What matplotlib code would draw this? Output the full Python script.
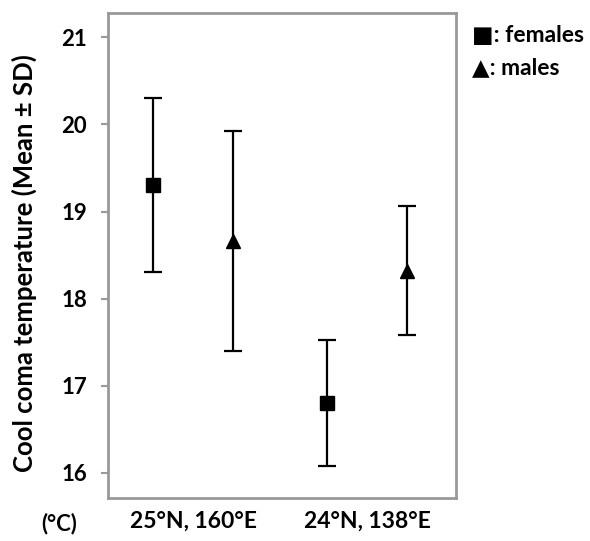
import numpy as np
import matplotlib.pyplot as plt

# sites and group values (cool coma temperature, mean and SD)
sites = ['25°N, 160°E', '24°N, 138°E']
female_mean = [19.3, 16.8]
female_sd = [1.0, 0.72]
male_mean = [18.66, 18.32]
male_sd = [1.26, 0.74]

plt.rcParams['font.family'] = ['Lato', 'DejaVu Sans']
plt.rcParams['font.weight'] = 'bold'

fig = plt.figure(figsize=(5.9, 5.41), dpi=100)
ax = fig.add_axes([0.183, 0.0795, 0.590, 0.8965])

x = np.arange(len(sites))
off = 0.23

ax.errorbar(x - off, female_mean, yerr=female_sd, fmt='s', color='black',
			markersize=10, elinewidth=1.6, capsize=6.5, capthick=1.6)
ax.errorbar(x + off, male_mean, yerr=male_sd, fmt='^', color='black',
			markersize=10, elinewidth=1.6, capsize=6.5, capthick=1.6)

ax.set_xlim(-0.489, 1.511)
ax.set_ylim(15.71, 21.28)
ax.set_yticks([16, 17, 18, 19, 20, 21])
ax.set_xticks(x)
ax.set_xticklabels(sites, fontsize=16.5, fontweight='bold')
ax.tick_params(axis='x', length=0, pad=9)
ax.tick_params(axis='y', length=5, width=1.5, color='#999999', labelsize=16, pad=10)
for lab in ax.get_yticklabels():
	lab.set_fontweight('bold')

for s in ax.spines.values():
	s.set_color('#999999')
	s.set_linewidth(2)

ax.set_ylabel('Cool coma temperature (Mean ± SD)', fontsize=18.5, fontweight='bold')
ax.yaxis.set_label_coords(-0.204, 0.485)

fig.text(0.100, 0.033, '(°C)', fontsize=16, fontweight='bold', ha='center', va='center')
fig.text(0.80, 0.935, '■: females', fontsize=16.5, fontweight='bold', ha='left', va='center')
fig.text(0.80, 0.874, '▲: males', fontsize=16.5, fontweight='bold', ha='left', va='center')

fig.savefig('out.png', dpi=100)
